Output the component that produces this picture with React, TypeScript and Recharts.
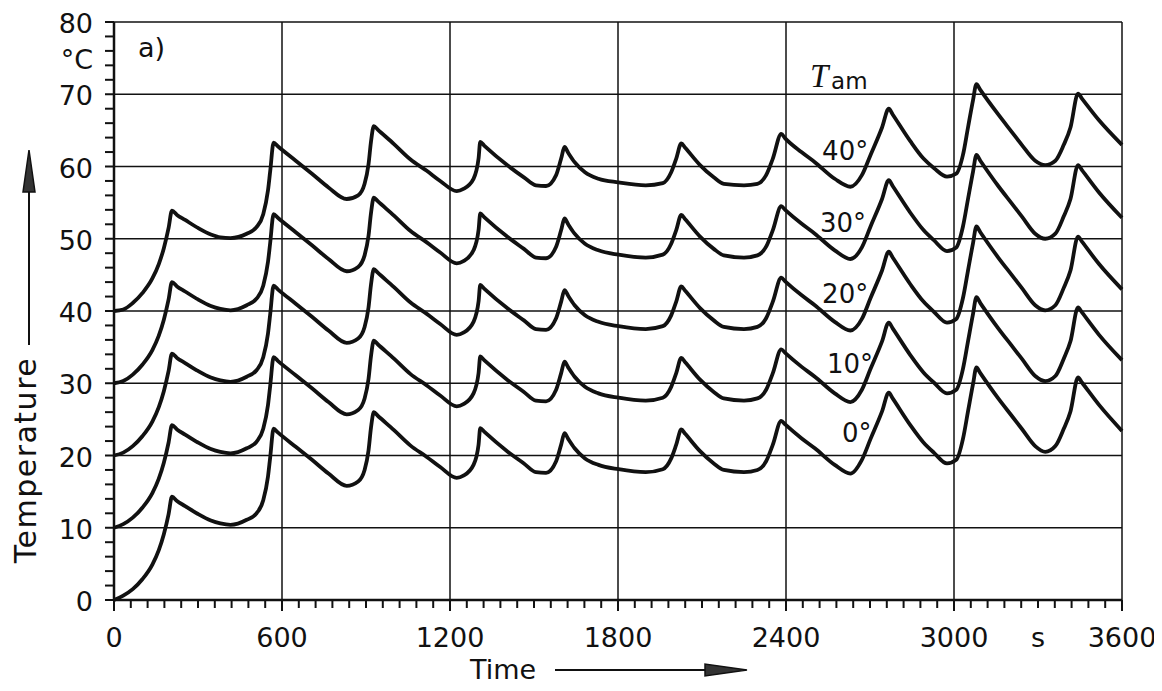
import { LineChart, Line, XAxis, YAxis, ReferenceLine, ReferenceDot } from "recharts";

// sample times (s), shared by all five curves
const times = [
  0, 33, 67, 102, 137, 160, 178, 195, 207, 225,
  254, 300, 346, 380, 416, 474, 509, 533, 550, 558,
  570, 585, 649, 707, 766, 831, 872, 895, 909, 918,
  928, 942, 1000, 1058, 1117, 1165, 1224, 1248, 1284, 1302,
  1308, 1322, 1404, 1464, 1507, 1543, 1579, 1597, 1609, 1622,
  1645, 1682, 1730, 1802, 1899, 1960, 1990, 2008, 2026, 2040,
  2093, 2142, 2178, 2250, 2298, 2329, 2353, 2383, 2397, 2455,
  2503, 2574, 2630, 2671, 2702, 2743, 2767, 2781, 2844, 2891,
  2928, 2975, 3008, 3032, 3050, 3068, 3080, 3094, 3158, 3206,
  3242, 3290, 3326, 3362, 3392, 3416, 3443, 3457, 3518, 3600,
];

// temperature (°C) for ambient 0°
const tam0 = [
  0, 0.6, 1.5, 2.9, 4.9, 6.9, 9.1, 11.9, 14.3, 13.7,
  13.0, 11.9, 11.0, 10.6, 10.4, 11.1, 12.0, 13.8, 17.1, 19.8,
  23.7, 23.2, 21.2, 19.4, 17.5, 15.8, 16.4, 18.0, 20.7, 23.9,
  26.0, 25.5, 23.5, 21.4, 19.8, 18.4, 16.9, 17.2, 18.7, 21.5,
  23.8, 23.3, 20.6, 18.9, 17.7, 17.6, 19.2, 21.5, 23.1, 22.3,
  21.0, 19.6, 18.7, 18.1, 17.7, 18.1, 19.6, 21.5, 23.6, 23.0,
  20.6, 18.9, 18.0, 17.7, 18.0, 19.2, 21.5, 24.8, 24.3, 22.4,
  21.0, 18.7, 17.5, 19.4, 22.3, 26.1, 28.7, 27.9, 24.2, 21.8,
  20.4, 18.9, 19.4, 22.3, 26.1, 29.9, 32.2, 31.4, 27.9, 25.5,
  23.7, 21.3, 20.5, 21.3, 23.7, 26.1, 30.8, 30.1, 27.0, 23.4,
];

// ambient 10°
const tam10 = [
  10.0, 10.5, 11.4, 12.8, 14.8, 16.8, 19.0, 21.8, 24.2, 23.6,
  22.9, 21.8, 20.9, 20.5, 20.3, 21.0, 21.9, 23.7, 27.0, 29.7,
  33.6, 33.1, 31.1, 29.3, 27.4, 25.7, 26.3, 27.9, 30.6, 33.8,
  35.9, 35.4, 33.4, 31.3, 29.7, 28.3, 26.8, 27.1, 28.6, 31.4,
  33.7, 33.2, 30.5, 28.8, 27.6, 27.5, 29.1, 31.4, 33.0, 32.2,
  30.9, 29.5, 28.6, 28.0, 27.6, 28.0, 29.5, 31.4, 33.5, 32.9,
  30.5, 28.8, 27.9, 27.6, 27.9, 29.1, 31.4, 34.7, 34.2, 32.3,
  30.9, 28.6, 27.4, 29.1, 32.0, 35.8, 38.4, 37.6, 33.9, 31.5,
  30.1, 28.6, 29.1, 32.0, 35.8, 39.6, 41.9, 41.1, 37.6, 35.2,
  33.4, 31.0, 30.3, 31.0, 33.4, 35.8, 40.5, 39.8, 36.7, 33.2,
];

// ambient 20°
const tam20 = [
  20.0, 20.4, 21.3, 22.7, 24.7, 26.7, 28.9, 31.7, 34.1, 33.5,
  32.8, 31.7, 30.8, 30.4, 30.2, 30.9, 31.8, 33.6, 36.9, 39.6,
  43.5, 43.0, 41.0, 39.2, 37.3, 35.6, 36.2, 37.8, 40.5, 43.7,
  45.8, 45.3, 43.3, 41.2, 39.6, 38.2, 36.7, 37.0, 38.5, 41.3,
  43.6, 43.1, 40.4, 38.7, 37.5, 37.4, 39.0, 41.3, 42.9, 42.1,
  40.8, 39.4, 38.5, 37.9, 37.5, 37.9, 39.4, 41.3, 43.4, 42.8,
  40.4, 38.7, 37.8, 37.5, 37.8, 39.0, 41.3, 44.6, 44.1, 42.2,
  40.8, 38.5, 37.3, 38.9, 41.8, 45.6, 48.2, 47.4, 43.7, 41.3,
  39.9, 38.4, 38.9, 41.8, 45.6, 49.4, 51.7, 50.9, 47.4, 45.0,
  43.2, 40.8, 40.1, 40.8, 43.2, 45.6, 50.3, 49.6, 46.5, 43.0,
];

// ambient 30°
const tam30 = [
  30.0, 30.3, 31.2, 32.6, 34.6, 36.6, 38.8, 41.6, 44.0, 43.4,
  42.7, 41.6, 40.7, 40.3, 40.1, 40.8, 41.7, 43.5, 46.8, 49.5,
  53.4, 52.9, 50.9, 49.1, 47.2, 45.5, 46.1, 47.7, 50.4, 53.6,
  55.7, 55.2, 53.2, 51.1, 49.5, 48.1, 46.6, 46.9, 48.4, 51.2,
  53.5, 53.0, 50.3, 48.6, 47.4, 47.3, 48.9, 51.2, 52.8, 52.0,
  50.7, 49.3, 48.4, 47.8, 47.4, 47.8, 49.3, 51.2, 53.3, 52.7,
  50.3, 48.6, 47.7, 47.4, 47.7, 48.9, 51.2, 54.5, 54.0, 52.1,
  50.7, 48.4, 47.2, 48.8, 51.7, 55.5, 58.1, 57.3, 53.6, 51.2,
  49.8, 48.3, 48.8, 51.7, 55.5, 59.3, 61.6, 60.8, 57.3, 54.9,
  53.1, 50.7, 50.0, 50.7, 53.1, 55.5, 60.2, 59.5, 56.4, 52.9,
];

// ambient 40°
const tam40 = [
  40.0, 40.2, 41.1, 42.5, 44.5, 46.5, 48.7, 51.5, 53.9, 53.3,
  52.6, 51.5, 50.6, 50.2, 50.1, 50.7, 51.6, 53.4, 56.7, 59.4,
  63.3, 62.8, 60.8, 59.0, 57.1, 55.5, 56.0, 57.6, 60.3, 63.5,
  65.6, 65.1, 63.1, 61.0, 59.4, 58.0, 56.6, 56.9, 58.3, 61.1,
  63.4, 62.9, 60.2, 58.5, 57.4, 57.3, 58.8, 61.1, 62.7, 61.9,
  60.6, 59.2, 58.3, 57.8, 57.4, 57.7, 59.2, 61.1, 63.2, 62.6,
  60.2, 58.5, 57.6, 57.4, 57.6, 58.8, 61.1, 64.5, 63.9, 62.0,
  60.6, 58.3, 57.2, 58.8, 61.6, 65.4, 68.0, 67.2, 63.5, 61.1,
  59.8, 58.6, 59.0, 61.6, 65.4, 69.2, 71.4, 70.6, 67.2, 64.8,
  63.0, 60.8, 60.2, 60.8, 63.0, 65.4, 70.1, 69.4, 66.4, 63.0,
];

const seriesKeys = ["tam0", "tam10", "tam20", "tam30", "tam40"];
const seriesLabels = ["0°", "10°", "20°", "30°", "40°"];
// label anchor (left, baseline) in data units
const labelTimes = [2600, 2546, 2529, 2521, 2529];
const labelTemps = [21.9, 31.4, 41.1, 50.9, 60.9];

const xMajor = [0, 600, 1200, 1800, 2400, 3000, 3600];
const yMajor = [0, 10, 20, 30, 40, 50, 60, 70, 80];
const xTicks = Array.from({ length: 61 }, (_, i) => i * 60);
const yTicks = Array.from({ length: 41 }, (_, i) => i * 2);

const data = times.map((t, i) => ({
  t,
  tam0: tam0[i],
  tam10: tam10[i],
  tam20: tam20[i],
  tam30: tam30[i],
  tam40: tam40[i],
}));

const W = 1162;
const H = 691;
const PL = 114; // plot left
const PB = 600; // plot bottom
const INK = "#111";
const FONT = '"DejaVu Sans", sans-serif';

function YTick(props: any) {
  const { y, payload } = props;
  const v = payload.value;
  return (
    <g>
      <line x1={PL - 9} x2={PL} y1={y} y2={y} stroke={INK} strokeWidth={2} />
      {v % 10 === 0 && (
        <text x={PL - 21} y={y + 11} textAnchor="end" fontSize={27} fontFamily={FONT} fill={INK}>
          {v}
        </text>
      )}
      {v === 76 && (
        <text x={PL - 21} y={y + 18} textAnchor="end" fontSize={27} fontFamily={FONT} fill={INK}>
          °C
        </text>
      )}
    </g>
  );
}

function XTick(props: any) {
  const { x, payload } = props;
  const v = payload.value;
  const major = v % 600 === 0;
  return (
    <g>
      <line x1={x} x2={x} y1={PB} y2={PB + (major ? 11 : 8)} stroke={INK} strokeWidth={2} />
      {major && (
        <text x={x} y={PB + 47} textAnchor="middle" fontSize={27} fontFamily={FONT} fill={INK}>
          {v}
        </text>
      )}
      {v === 3300 && (
        <text x={x} y={PB + 47} textAnchor="middle" fontSize={27} fontFamily={FONT} fill={INK}>
          s
        </text>
      )}
    </g>
  );
}

export default function App() {
  return (
    <div style={{ position: "relative", width: W, height: H, margin: -8, background: "#fff" }}>
      <LineChart width={W} height={H} data={data} margin={{ top: 22, right: 40, bottom: 51, left: 54 }}>
        <XAxis
          dataKey="t"
          type="number"
          domain={[0, 3600]}
          ticks={xTicks}
          interval={0}
          height={40}
          tickSize={0}
          tickMargin={0}
          tick={(p: any) => <XTick {...p} />}
          axisLine={{ stroke: INK, strokeWidth: 2.5 }}
          tickLine={false}
        />
        <YAxis
          type="number"
          domain={[0, 80]}
          ticks={yTicks}
          interval={0}
          width={60}
          tickSize={0}
          tickMargin={0}
          tick={(p: any) => <YTick {...p} />}
          axisLine={{ stroke: INK, strokeWidth: 2.5 }}
          tickLine={false}
        />
        {yMajor.slice(1).map((v) => (
          <ReferenceLine key={"h" + v} y={v} stroke={INK} strokeWidth={1.5} />
        ))}
        {xMajor.slice(1).map((v) => (
          <ReferenceLine key={"v" + v} x={v} stroke={INK} strokeWidth={1.5} />
        ))}
        {seriesKeys.map((k) => (
          <Line
            key={k}
            dataKey={k}
            type="monotone"
            stroke={INK}
            strokeWidth={3.8}
            strokeLinejoin="round"
            dot={false}
            isAnimationActive={false}
          />
        ))}
        {seriesLabels.map((s, i) => (
          <ReferenceDot
            key={s}
            x={labelTimes[i]}
            y={labelTemps[i]}
            r={0}
            shape={(p: any) => (
              <text x={p.cx} y={p.cy} fontSize={26} fontFamily={FONT} fill={INK}>
                {s}
              </text>
            )}
          />
        ))}
        <ReferenceDot
          x={86}
          y={75.2}
          r={0}
          shape={(p: any) => (
            <text x={p.cx} y={p.cy} fontSize={27} fontFamily={FONT} fill={INK}>
              a)
            </text>
          )}
        />
        <ReferenceDot
          x={2486}
          y={70.9}
          r={0}
          shape={(p: any) => (
            <g>
              <text x={p.cx} y={p.cy - 1} fontSize={33} fontStyle="italic" fontFamily='"Liberation Serif", serif' fill={INK}>
                T
              </text>
              <text x={p.cx + 21} y={p.cy + 1} fontSize={23} fontFamily={FONT} fill={INK}>
                am
              </text>
            </g>
          )}
        />
      </LineChart>
      <svg
        width={W}
        height={H}
        style={{ position: "absolute", left: 0, top: 0, pointerEvents: "none" }}
      >
        <text
          transform="translate(36,460) rotate(-90)"
          textAnchor="middle"
          fontSize={30}
          letterSpacing={1.5}
          fontFamily={FONT}
          fill={INK}
        >
          Temperature
        </text>
        <line x1={29} x2={29} y1={345} y2={188} stroke={INK} strokeWidth={2} />
        <polygon points="29,150 23,192 35,192" fill="#333" stroke={INK} strokeWidth={1.5} />
        <text x={470} y={679} fontSize={27} fontFamily={FONT} fill={INK}>
          Time
        </text>
        <line x1={555} x2={708} y1={670} y2={670} stroke={INK} strokeWidth={2} />
        <polygon points="747,670 705,664 705,676" fill="#333" stroke={INK} strokeWidth={1.5} />
      </svg>
    </div>
  );
}
